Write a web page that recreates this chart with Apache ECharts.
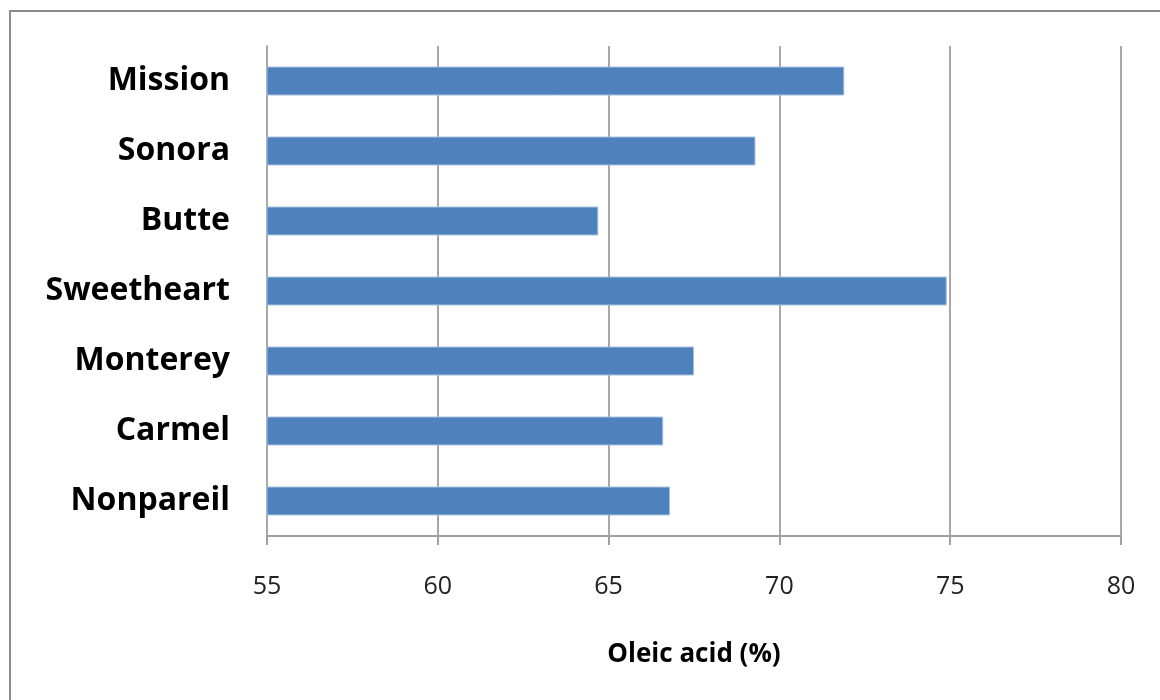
<!DOCTYPE html>
<html>
<head>
<meta charset="utf-8">
<title>Oleic acid by cultivar</title>
<script src="https://cdn.jsdelivr.net/npm/echarts@6/dist/echarts.min.js"></script>
<style>
  html, body { margin: 0; padding: 0; background: #fff; }
  #chart { width: 1160px; height: 700px; }
</style>
</head>
<body>
<div id="chart"></div>
<script>
// Cultivars, listed top to bottom
const cultivars = ['Mission', 'Sonora', 'Butte', 'Sweetheart', 'Monterey', 'Carmel', 'Nonpareil'];
// Oleic acid content (%) for each cultivar
const oleicAcid = [71.9, 69.3, 64.7, 74.9, 67.5, 66.6, 66.8];
// Value axis range and step
const axisMin = 55;
const axisMax = 80;
const axisStep = 5;

const labelFont = '"Open Sans", "Noto Sans", "Liberation Sans", sans-serif';

const chart = echarts.init(document.getElementById('chart'), null, { renderer: 'canvas' });

chart.setOption({
  animation: false,
  backgroundColor: '#ffffff',
  graphic: [{
    type: 'rect',
    shape: { x: 10, y: 11, width: 1200, height: 800 },
    style: { fill: 'none', stroke: '#8c8c8c', lineWidth: 2 },
    silent: true
  }],
  grid: { left: 267, right: 39, top: 46, bottom: 164, containLabel: false },
  xAxis: {
    type: 'value',
    min: axisMin,
    max: axisMax,
    interval: axisStep,
    name: 'Oleic acid (%)',
    nameLocation: 'middle',
    nameGap: 106,
    nameTextStyle: { fontFamily: labelFont, fontWeight: 'bold', fontSize: 26, color: '#000' },
    axisLine: { show: true, lineStyle: { color: '#a0a0a0', width: 2 } },
    axisTick: { show: true, length: 9, lineStyle: { color: '#a0a0a0', width: 2 } },
    axisLabel: { fontFamily: labelFont, fontSize: 25, color: '#222', margin: 38 },
    splitLine: { show: true, lineStyle: { color: '#a8a8a8', width: 2 } }
  },
  yAxis: {
    type: 'category',
    data: cultivars,
    inverse: true,
    axisLine: { show: true, lineStyle: { color: '#a8a8a8', width: 2 } },
    axisTick: { show: false },
    axisLabel: { fontFamily: labelFont, fontWeight: 'bold', fontSize: 32, color: '#000', margin: 37 },
    splitLine: { show: false }
  },
  series: [{
    type: 'bar',
    data: oleicAcid,
    barWidth: 29,
    itemStyle: { color: '#4f81bd', borderColor: '#a9c2e2', borderWidth: 1 }
  }]
});
</script>
</body>
</html>
